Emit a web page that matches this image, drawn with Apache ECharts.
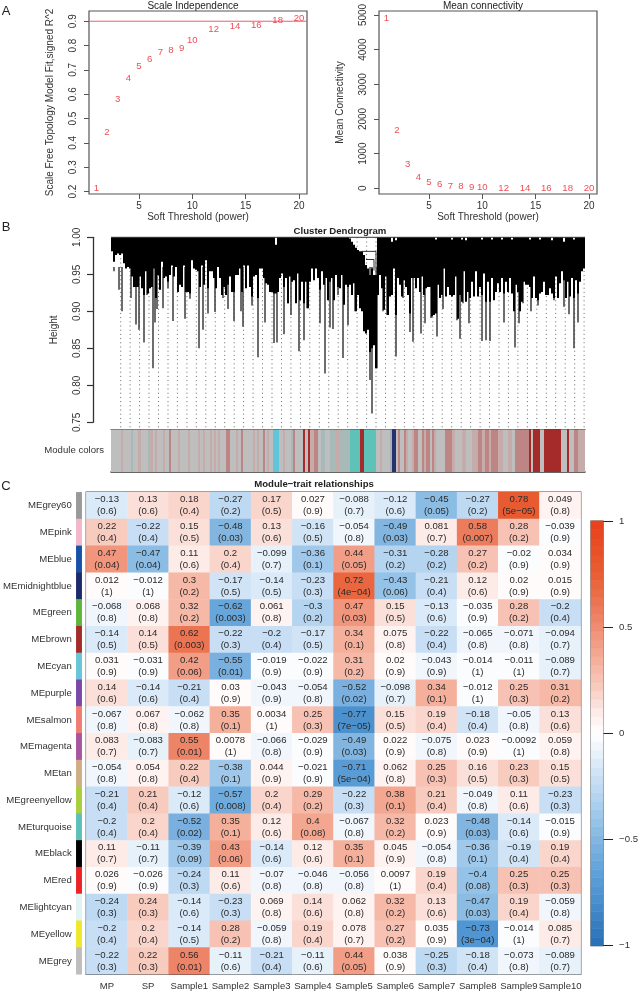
<!DOCTYPE html>
<html><head><meta charset="utf-8">
<style>html,body{margin:0;padding:0;background:#fff}#c{width:641px;height:992px}</style>
<script src="https://cdn.jsdelivr.net/npm/echarts@6/dist/echarts.min.js"></script>
</head><body><div id="c"></div>
<script>
const powers=[1,2,3,4,5,6,7,8,9,10,12,14,16,18,20];
const fitR2=[.214,.442,.578,.666,.716,.745,.771,.78,.789,.823,.866,.877,.882,.905,.911];
const meanConn=[4904,1663,702,327,173,106,58,48,29,19,10,8,5,3,2];
const fitCutoff=[.9,.9];

const dendroCore=[.981,.967,.976,.978,.976,.978,.965,.958,.960,.958,.947,.933,.933,.933,.947,.931,.922,.954,.924,.931,.933,.958,.918,.949,.929,.967,.945,.947,.940,.949,.962,.947,.960,.926,.936,.933,.962,.926,.926,.924,.969,.958,.956,.954,.933,.962,.936,.969,.931,.954,.954,.945,.931,.960,.945,.922,.933,.922,.936,.947,.926,.926,.949,.949,.958,.926,.962,.931,.962,.933,.920,.947,.949,.918,.958,.958,.945,.938,.936,
.926,.926,.924,.924,.926,.945,.951,.933,.945,.911,.947,.940,.942,.911,.951,.915,.940,.911,.940,.904,.940,.958,.942,.958,.945,.929,.954,.936,.945,.915,.940,.945,.915,.949,.933,.931,.949,.909,.936,.933,.936,.922,.938,.900,.922,.904,.900,.873,.870,.875,.845,.850,.854,.823,.922,.949,.931,.902,.947,.895,.920,.922,.958,.895,.945,.936,.920,.942,.933,.922,.897,.945,.945,.931,.945,.926,.947,.922,.931,.933,
.933,.893,.895,.897,.936,.918,.922,.958,.920,.933,.922,.920,.922,.947,.890,.922,.913,.954,.913,.926,.918,.940,.920,.954,.920,.933,.922,.951,.913,.940,.913,.945,.915,.926,.938,.926,.945,.924,.940,.926,.945,.924,.900,.936,.926,.900,.913,.940,.936,.936,.933,.918,.947,.918,.915,.924,.926,.940,.922,.922,.931,.924,.918,.947,.918,.938,.954,.942,.918,.940,.920,.945,.918,.942,.924,.940,.954,.958];
const dendroSpikes=[[3,.954],[8,.929],[11,.900],[20,.918],[25,.882],[28,.875],[33,.858],[36,.922],[42,.823],[44,.885],[46,.903],[52,.904],[57,.931],[62,.887],[67,.926],[74,.890],[79,.917],[88,.850],[92,.875],[97,.897],[104,.899],[112,.918],[117,.903],[123,.887],[130,.900],[132,.879],[141,.908],[147,.838],[154,.885],
[163,.857],[166,.858],[173,.869],[177,.911],[180,.895],[188,.846],[193,.861],[196,.904],[209,.884],[214,.816],[219,.878],[222,.876],[227,.922],[232,.837],[237,.881],[244,.900],[259,.807],[261,.762],[266,.823],[272,.900],[276,.895],[285,.839],[292,.918],[299,.872],[302,.859],[310,.870],[314,.884],
[320,.891],[326,.866],[332,.903],[346,.888],[349,.863],[352,.911],[358,.884],[371,.860],[375,.861],[379,.860],[393,.885],[404,.851],[408,.884],[412,.911],[420,.900],[427,.908],[443,.915],[453,.906],[458,.896],[463,.850],[467,.885]];
const dendroTopGaps={164:.990,238:.9985,240:.994,242:.990,244:.986,246:.983,248:.981,250:.981,252:.976,254:.9625,256:.958,258:.949,260:.958,262:.949,264:.949,280:.994,284:.996,324:.997,340:.997,350:.997,354:.996,370:.997,380:.997,390:.997,400:.997,418:.997,428:.997,440:.996,452:.994,462:.997};
const dendroLinks=[[0,1,474,1],[251,.981,265,.981],[265,.981,265,.949],[255,.970,263,.970],[263,.970,263,.955]];
const guideLeaves=[9.7,19.1,28.6,38,47.5,57,66.4,75.9,85.3,94.8,104.3,113.7,123.2,132.6,142.1,151.5,161,170.5,179.9,189.4,198.8,208.3,217.7,227.2,236.7,246.1,255.6,265,274.5,284,293.4,302.9,312.3,321.8,331.2,340.7,350.2,359.6,369.1,378.5,388,397.4,406.9,416.4,425.8,435.3,444.7,454.2,463.7,473.1];
const stripPalette={g:'#BEBEBE',l:'#C6ABAB',m:'#BE8585',b:'#A52A2A',t:'#5EC2B8',c:'#62C4DA',n:'#24336E',s:'#A8BAB8',k:'#A9AEB8'};
const stripRuns=[[10,'g'],[12,'l'],[20,'g'],[22,'s'],[27,'g'],[30,'l'],[37,'g'],[39,'s'],[42,'l'],[44,'g'],[46,'l'],[52,'g'],[54,'l'],[58,'g'],[60,'m'],[67,'g'],[69,'l'],[77,'g'],[79,'l'],[87,'g'],[89,'l'],[92,'g'],[94,'l'],[99,'g'],[101,'l'],[103,'g'],[105,'l'],[107,'g'],[109,'l'],[115,'g'],[119,'m'],[125,'g'],[127,'l'],[130,'g'],[132,'m'],[142,'g'],[144,'l'],[146,'g'],[148,'l'],[152,'g'],[154,'m'],[156,'g'],[158,'l'],[162,'g'],[168,'c'],[172,'g'],[174,'l'],[180,'g'],[182,'s'],[184,'m'],[192,'g'],[194,'b'],[197,'g'],[199,'b'],[203,'l'],[207,'m'],[210,'g'],[214,'s'],[219,'g'],[225,'s'],[229,'l'],[235,'s'],[239,'s'],[249,'t'],[253,'b'],[265,'t'],[269,'g'],[271,'l'],[279,'g'],[281,'k'],[285,'n'],[287,'g'],[289,'m'],[293,'g'],[295,'m'],[297,'l'],[301,'g'],[303,'l'],[307,'m'],[311,'g'],[313,'m'],[315,'l'],[319,'m'],[321,'g'],[323,'m'],[325,'l'],[334,'g'],[341,'m'],[344,'l'],[351,'g'],[355,'l'],[361,'g'],[367,'l'],[371,'m'],[374,'l'],[378,'m'],[380,'l'],[387,'m'],[392,'l'],[397,'g'],[401,'l'],[404,'g'],[410,'m'],[418,'m'],[420,'b'],[422,'g'],[429,'b'],[433,'g'],[450,'b'],[456,'g'],[458,'b'],[463,'g'],[467,'m'],[474,'l']];

const moduleNames=['MEgrey60','MEpink','MEblue','MEmidnightblue','MEgreen','MEbrown','MEcyan','MEpurple','MEsalmon','MEmagenta','MEtan','MEgreenyellow','MEturquoise','MEblack','MEred','MElightcyan','MEyellow','MEgrey'];
const moduleSwatches=['#999999','#F5B6CA','#1552A8','#1E2B68','#5DB63A','#A52A2A','#67C5D8','#7A49A8','#F07D70','#A855A0','#CFAE85','#A9CF3C','#5CC0B8','#000000','#EC2225','#E0F4F4','#F0E72D','#BEBEBE'];
const traitNames=['MP','SP','Sample1','Sample2','Sample3','Sample4','Sample5','Sample6','Sample7','Sample8','Sample9','Sample10'];
const corrValues=[
[-0.13,0.13,0.18,-0.27,0.17,0.027,-0.088,-0.12,-0.45,-0.27,0.78,0.049],
[0.22,-0.22,0.15,-0.48,0.13,-0.16,-0.054,-0.49,0.081,0.58,0.28,-0.039],
[0.47,-0.47,0.11,0.2,-0.099,-0.36,0.44,-0.31,-0.28,0.27,-0.02,0.034],
[0.012,-0.012,0.3,-0.17,-0.14,-0.23,0.72,-0.43,-0.21,0.12,0.02,0.015],
[-0.068,0.068,0.32,-0.62,0.061,-0.3,0.47,0.15,-0.13,-0.035,0.28,-0.2],
[-0.14,0.14,0.62,-0.22,-0.2,-0.17,0.34,0.075,-0.22,-0.065,-0.071,-0.094],
[0.031,-0.031,0.42,-0.55,-0.019,-0.022,0.31,0.02,-0.043,-0.014,-0.011,-0.089],
[0.14,-0.14,-0.21,0.03,-0.043,-0.054,-0.52,-0.098,0.34,-0.012,0.25,0.31],
[-0.067,0.067,-0.062,0.35,0.0034,0.25,-0.77,0.15,0.19,-0.18,-0.05,0.13],
[0.083,-0.083,0.55,0.0078,-0.066,-0.029,-0.49,0.022,-0.075,0.023,-0.0092,0.059],
[-0.054,0.054,0.22,-0.38,0.044,-0.021,-0.71,0.062,0.25,0.16,0.23,0.15],
[-0.21,0.21,-0.12,-0.57,0.2,0.29,-0.22,0.38,0.21,-0.049,0.11,-0.23],
[-0.2,0.2,-0.52,0.35,0.12,0.4,-0.067,0.32,0.023,-0.48,-0.14,-0.015],
[0.11,-0.11,-0.39,0.43,-0.14,0.12,0.35,0.045,-0.054,-0.36,-0.19,0.19],
[0.026,-0.026,-0.24,0.11,-0.07,-0.046,-0.056,0.0097,0.19,-0.4,0.25,0.25],
[-0.24,0.24,-0.14,-0.23,0.069,0.14,0.062,0.32,0.13,-0.47,0.19,-0.059],
[-0.2,0.2,-0.14,0.28,-0.059,0.19,0.078,0.27,0.035,-0.73,-0.014,0.085],
[-0.22,0.22,0.56,-0.11,-0.21,-0.11,0.44,0.038,-0.25,-0.18,-0.073,-0.089]];
const pValues=[
['0.6','0.6','0.4','0.2','0.5','0.9','0.7','0.6','0.05','0.2','5e-05','0.8'],
['0.4','0.4','0.5','0.03','0.6','0.5','0.8','0.03','0.7','0.007','0.2','0.9'],
['0.04','0.04','0.6','0.4','0.7','0.1','0.05','0.2','0.2','0.2','0.9','0.9'],
['1','1','0.2','0.5','0.5','0.3','4e-04','0.06','0.4','0.6','0.9','0.9'],
['0.8','0.8','0.2','0.003','0.8','0.2','0.03','0.5','0.6','0.9','0.2','0.4'],
['0.5','0.5','0.003','0.3','0.4','0.5','0.1','0.8','0.4','0.8','0.8','0.7'],
['0.9','0.9','0.06','0.01','0.9','0.9','0.2','0.9','0.9','1','1','0.7'],
['0.6','0.6','0.4','0.9','0.9','0.8','0.02','0.7','0.1','1','0.3','0.2'],
['0.8','0.8','0.8','0.1','1','0.3','7e-05','0.5','0.4','0.4','0.8','0.6'],
['0.7','0.7','0.01','1','0.8','0.9','0.03','0.9','0.8','0.9','1','0.8'],
['0.8','0.8','0.4','0.1','0.9','0.9','5e-04','0.8','0.3','0.5','0.3','0.5'],
['0.4','0.4','0.6','0.008','0.4','0.2','0.3','0.1','0.4','0.8','0.6','0.3'],
['0.4','0.4','0.02','0.1','0.6','0.08','0.8','0.2','0.9','0.03','0.6','0.9'],
['0.7','0.7','0.09','0.06','0.6','0.6','0.1','0.9','0.8','0.1','0.4','0.4'],
['0.9','0.9','0.3','0.6','0.8','0.8','0.8','1','0.4','0.08','0.3','0.3'],
['0.3','0.3','0.6','0.3','0.8','0.6','0.8','0.2','0.6','0.03','0.4','0.8'],
['0.4','0.4','0.5','0.2','0.8','0.4','0.7','0.2','0.9','3e-04','1','0.7'],
['0.3','0.3','0.01','0.6','0.4','0.6','0.05','0.9','0.3','0.4','0.8','0.7']];
const colorbarLows=[-1,-.96,-.92,-.88,-.84,-.8,-.76,-.72,-.68,-.64,-.6,-.56,-.52,-.48,-.44,-.4,-.36,-.32,-.28,-.24,-.2,-.16,-.12,-.08,-.04,0,.04,.08,.12,.16,.2,.24,.28,.32,.36,.4,.44,.48,.52,.56,.6,.64,.68,.72,.76,.8,.84,.88,.92,.96];
const rampColors=['#2B72B8','#3A80C2','#4A90CE','#5A9DD6','#6EAADD','#84B7E2','#9CC6E9','#B6D5F0','#CCE1F5','#E7F1FA','#FFFFFF','#FDECE8','#F9D0C6','#F6BAA9','#F3A48E','#F08E74','#EC7A5A','#EA6842','#E85A30','#E84E26','#E8431E'];

const FONT='"Liberation Sans",Arial,sans-serif', INK='#333', AX='#555';
const minus=s=>String(s).replace(/-/g,'\u2212');
const box={show:true,borderColor:AX,borderWidth:1.2,backgroundColor:'transparent'};
const axTick={show:true,length:5,lineStyle:{color:AX,width:1}};
const mk=(g,extra)=>Object.assign({gridIndex:g,type:'value',axisLine:{show:false,onZero:false},splitLine:{show:false},nameLocation:'middle',nameTextStyle:{color:INK,fontSize:10,fontFamily:FONT}},extra);
const tt=(text,x,y,size,bold)=>({text,left:x,top:y,padding:0,textAlign:'center',textStyle:{color:'#222',fontSize:size,fontWeight:bold?'bold':'normal',fontFamily:FONT}});
const rect=(p,q)=>({x:p[0],y:p[1],width:q[0]-p[0],height:q[1]-p[1]});

const xTicks=[5,10,15,20];
const softAxis=g=>mk(g,{min:0.31,max:20.75,name:'Soft Threshold (power)',nameGap:14,
  axisTick:Object.assign({customValues:xTicks},axTick),
  axisLabel:{customValues:xTicks,margin:7,color:INK,fontSize:10,fontFamily:FONT}});
const powerScatter=(g,vals)=>({type:'scatter',xAxisIndex:g,yAxisIndex:g,symbolSize:1,z:5,itemStyle:{color:'rgba(0,0,0,0)'},
  data:powers.map((p,i)=>[p,vals[i]]),
  label:{show:true,position:'inside',color:'#E8202A',fontSize:9.6,fontFamily:FONT,formatter:o=>o.value[0]}});

const fitTicks=[.2,.3,.4,.5,.6,.7,.8,.9], connTicks=[0,1000,2000,3000,4000,5000], heightTicks=[.75,.8,.85,.9,.95,1];
const option={
 backgroundColor:'#fff',animation:false,
 title:[tt('A',6,5,13),tt('B',6,221,13),tt('C',6,480,13),
  tt('Scale Independence',193,1.5,10),tt('Mean connectivity',483,1.5,10),
  tt('Cluster Dendrogram',340,226,9.6,true),tt('Module\u2212trait relationships',314,479,9.6,true),
  {text:'Module colors',left:104,top:445,padding:0,textAlign:'right',textStyle:{color:INK,fontSize:9.6,fontWeight:'normal',fontFamily:FONT}}],
 grid:[
  Object.assign({left:89,top:11,width:218,height:183},box),
  Object.assign({left:379,top:11,width:218,height:183},box),
  {left:111,top:237.3,width:474,height:185},
  {left:111,top:429.5,width:474,height:42.5},
  {left:75.5,top:492.3,width:6.2,height:482},
  Object.assign({left:86.3,top:492.3,width:494.4,height:482},box,{borderColor:'#444',borderWidth:1.4}),
  Object.assign({left:591,top:521,width:15,height:424.7},box)
 ],
 xAxis:[
  softAxis(0),softAxis(1),
  mk(2,{min:0,max:474,axisLabel:{show:false},axisTick:{show:false}}),
  mk(3,{min:0,max:474,axisLabel:{show:false},axisTick:{show:false},axisLine:{show:true,onZero:false,lineStyle:{color:'#333',width:1.5}}}),
  {gridIndex:4,type:'category',data:[''],show:false},
  {gridIndex:5,type:'category',data:traitNames,axisLine:{show:false},axisTick:{show:false},
   axisLabel:{margin:7.5,color:INK,fontSize:9.5,fontFamily:FONT,interval:0,hideOverlap:false}},
  mk(6,{min:0,max:1,show:false}),
  mk(3,{min:0,max:474,position:'top',axisLabel:{show:false},axisTick:{show:false},axisLine:{show:true,onZero:false,lineStyle:{color:'#444',width:1.2}}})
 ],
 yAxis:[
  mk(0,{min:.19,max:.942,name:'Scale Free Topology Model Fit,signed R^2',nameGap:34,
    axisTick:Object.assign({customValues:fitTicks},axTick),
    axisLabel:{customValues:fitTicks,rotate:90,margin:10.5,color:INK,fontSize:10,fontFamily:FONT}}),
  mk(1,{min:-164,max:5115,name:'Mean Connectivity',nameGap:34,
    axisTick:Object.assign({customValues:connTicks},axTick),
    axisLabel:{customValues:connTicks,rotate:90,margin:10.5,color:INK,fontSize:10,fontFamily:FONT,formatter:v=>String(v)}}),
  mk(2,{min:.75,max:1,offset:18,name:'Height',nameGap:34,
    axisLine:{show:true,onZero:false,lineStyle:{color:'#333',width:1.3}},
    axisTick:Object.assign({customValues:heightTicks},axTick,{length:6,lineStyle:{color:'#333',width:1.2}}),
    axisLabel:{customValues:heightTicks,rotate:90,margin:11,color:INK,fontSize:10,fontFamily:FONT,formatter:v=>v.toFixed(2)}}),
  mk(3,{min:0,max:1,show:false}),
  {gridIndex:4,type:'category',data:moduleNames,inverse:true,axisLine:{show:false},axisTick:{show:false},
   axisLabel:{margin:4.5,color:INK,fontSize:9.6,fontFamily:FONT,interval:0}},
  {gridIndex:5,type:'category',data:moduleNames,inverse:true,show:false},
  mk(6,{min:-1,max:1,interval:.5,position:'right',
    axisTick:{show:true,length:10,lineStyle:{color:'#222',width:1}},
    axisLabel:{margin:16,color:INK,fontSize:9.6,fontFamily:FONT,formatter:v=>minus(v)}})
 ],
 visualMap:{type:'piecewise',show:false,min:-1,max:1,splitNumber:50,dimension:2,seriesIndex:[7,9],inRange:{color:rampColors}},
 series:[
  powerScatter(0,fitR2),
  powerScatter(1,meanConn),
  {type:'custom',xAxisIndex:2,yAxisIndex:2,z:1,encode:{x:0,y:1},data:guideLeaves.map(l=>[l,1,.743]),
   renderItem:(p,api)=>{const a=api.coord([api.value(0),api.value(1)]),b=api.coord([api.value(0),api.value(2)]);
    return {type:'line',shape:{x1:a[0],y1:a[1],x2:b[0],y2:b[1]},style:{stroke:'#666',lineWidth:1,lineDash:[1,3.2]}};}},
  {type:'custom',xAxisIndex:2,yAxisIndex:2,z:2,encode:{x:0,y:1},data:dendroSpikes.map(s=>[s[0],.96,s[1]]),
   renderItem:(p,api)=>{const a=api.coord([api.value(0),api.value(1)]),b=api.coord([api.value(0),api.value(2)]);
    return {type:'line',shape:{x1:a[0],y1:a[1],x2:b[0],y2:b[1]},style:{stroke:'#3c3c3c',lineWidth:1.5}};}},
  {type:'custom',xAxisIndex:2,yAxisIndex:2,z:3,encode:{x:0,y:1},
   data:dendroCore.map((h,i)=>[i*2,dendroTopGaps[i*2]||1,h]),
   renderItem:(p,api)=>{const l=api.value(0);
    return {type:'rect',shape:rect(api.coord([l,api.value(1)]),api.coord([l+2,api.value(2)])),style:{fill:'#000'}};}},
  {type:'custom',xAxisIndex:2,yAxisIndex:2,z:4,encode:{x:0,y:1},data:dendroLinks,
   renderItem:(p,api)=>{const a=api.coord([api.value(0),api.value(1)]),b=api.coord([api.value(2),api.value(3)]);
    return {type:'line',shape:{x1:a[0],y1:a[1],x2:b[0],y2:b[1]},style:{stroke:'#333',lineWidth:1}};}},
  {type:'custom',xAxisIndex:3,yAxisIndex:3,encode:{x:0,y:1},
   data:stripRuns.map((r,i)=>({value:[i?stripRuns[i-1][0]:0,0,r[0]],module:r[1]})),
   renderItem:(p,api)=>{const r=stripRuns[p.dataIndex];
    return {type:'rect',shape:rect(api.coord([api.value(0),1]),api.coord([api.value(2),0])),style:{fill:stripPalette[r[1]]}};}},
  {type:'heatmap',xAxisIndex:5,yAxisIndex:5,
   data:corrValues.flatMap((row,r)=>row.map((v,c)=>[c,r,v])),
   label:{show:true,color:'#2a2a2a',fontSize:9.6,lineHeight:12,fontFamily:FONT,
    formatter:o=>minus(corrValues[o.value[1]][o.value[0]])+'\n('+minus(pValues[o.value[1]][o.value[0]])+')'},
   itemStyle:{borderWidth:0}},
  {type:'heatmap',xAxisIndex:4,yAxisIndex:4,
   data:moduleNames.map((n,i)=>({value:[0,i,1],itemStyle:{color:moduleSwatches[i]}}))},
  {type:'custom',xAxisIndex:6,yAxisIndex:6,encode:{x:0,y:1},
   data:colorbarLows.map(l=>[0,l,l+.02,l+.04]),
   renderItem:(p,api)=>{const c=api.visual('color');return {type:'rect',shape:rect(api.coord([0,api.value(3)]),api.coord([1,api.value(1)])),style:{fill:c,stroke:c,lineWidth:.6}};}},
  {type:'line',xAxisIndex:0,yAxisIndex:0,symbol:'none',z:4,data:[[.31,fitCutoff[0]],[20.75,fitCutoff[1]]],lineStyle:{color:'#E8606A',width:1}}
 ]
};
echarts.init(document.getElementById('c'),null,{renderer:'canvas'}).setOption(option);
</script></body></html>
